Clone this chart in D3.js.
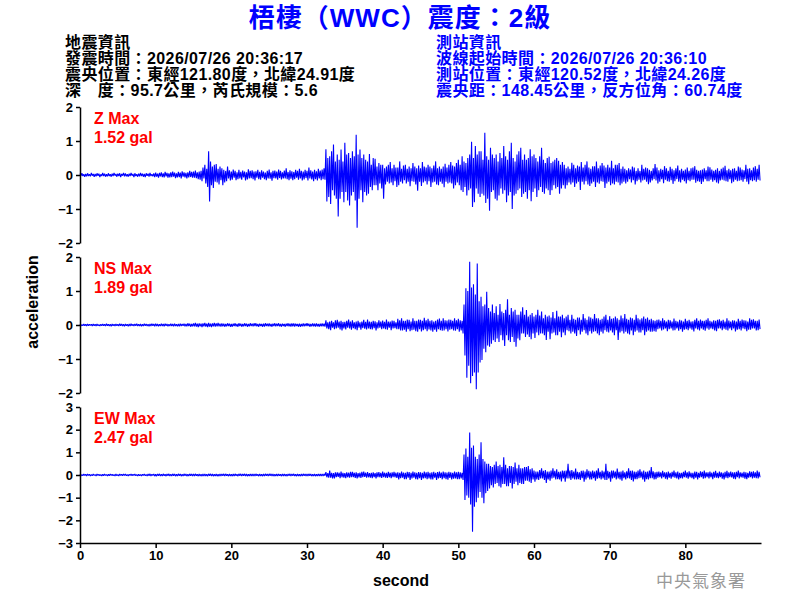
<!DOCTYPE html>
<html>
<head>
<meta charset="utf-8">
<script src="https://cdn.jsdelivr.net/npm/d3@7"></script>
<style>
  body { margin: 0; background: #fff; }
  svg text { font-family: "Liberation Sans", Arial, sans-serif; }
  .cjk { font-family: "Liberation Sans", "Noto Sans CJK TC", sans-serif; }
</style>
</head>
<body>
<svg id="chart"></svg>
<script>
// sample step of the traces (seconds)
const dt = 0.125;

const xTicks = [0, 10, 20, 30, 40, 50, 60, 70, 80];
const zTicks = [-2, -1, 0, 1, 2];
const nsTicks = [-2, -1, 0, 1, 2];
const ewTicks = [-3, -2, -1, 0, 1, 2, 3];

const infoLeft = [
  "地震資訊",
  "發震時間：2026/07/26 20:36:17",
  "震央位置：東經121.80度，北緯24.91度",
  "深　度：95.7公里，芮氏規模：5.6"
];
const infoRight = [
  "測站資訊",
  "波線起始時間：2026/07/26 20:36:10",
  "測站位置：東經120.52度，北緯24.26度",
  "震央距：148.45公里，反方位角：60.74度"
];

// Z component, gal (2 s per row)
const zAcc = [
  0.04,-0.02,0.05,-0.03,0.02,-0.05,0.03,-0.04, 0.05,-0.03,0.02,-0.04,0.06,-0.02,0.03,-0.05,
  0.03,-0.04,0.05,-0.02,0.04,-0.06,0.02,-0.03, 0.06,-0.03,0.04,-0.05,0.02,-0.04,0.05,-0.03,
  0.02,-0.05,0.04,-0.03,0.06,-0.02,0.03,-0.05, 0.04,-0.03,0.05,-0.06,0.03,-0.02,0.06,-0.04,
  0.05,-0.04,0.02,-0.05,0.04,-0.03,0.06,-0.02, 0.03,-0.06,0.05,-0.03,0.02,-0.05,0.04,-0.04,
  0.06,-0.03,0.04,-0.05,0.03,-0.06,0.05,-0.02, 0.04,-0.05,0.06,-0.03,0.02,-0.04,0.05,-0.06,
  0.07,-0.05,0.04,-0.08,0.06,-0.04,0.08,-0.06, 0.05,-0.07,0.09,-0.04,0.06,-0.08,0.05,-0.07,
  0.08,-0.06,0.1,-0.05,0.07,-0.09,0.05,-0.07, 0.09,-0.06,0.07,-0.1,0.11,-0.05,0.08,-0.07,
  0.06,-0.1,0.08,-0.07,0.12,-0.06,0.09,-0.08, 0.1,-0.08,0.13,-0.09,0.08,-0.12,0.1,-0.14,
  0.12,-0.18,0.22,-0.1,0.3,-0.25,0.18,-0.35, 0.7,-0.78,0.4,-0.3,0.25,-0.38,0.3,-0.2,
  0.32,-0.22,0.18,-0.28,0.25,-0.15,0.2,-0.3, 0.15,-0.22,0.12,-0.18,0.25,-0.1,0.14,-0.16,
  0.1,-0.14,0.16,-0.08,0.12,-0.15,0.08,-0.12, 0.15,-0.1,0.09,-0.14,0.13,-0.07,0.1,-0.16,
  0.08,-0.13,0.17,-0.1,0.12,-0.09,0.14,-0.12, 0.1,-0.16,0.11,-0.08,0.15,-0.12,0.09,-0.14,
  0.14,-0.08,0.1,-0.12,0.07,-0.15,0.12,-0.1, 0.16,-0.11,0.08,-0.17,0.12,-0.09,0.13,-0.1,
  0.1,-0.14,0.16,-0.09,0.12,-0.13,0.08,-0.1, 0.13,-0.1,0.2,-0.12,0.09,-0.15,0.14,-0.11,
  0.11,-0.15,0.09,-0.12,0.15,-0.08,0.12,-0.14, 0.18,-0.1,0.12,-0.16,0.1,-0.13,0.15,-0.09,
  0.12,-0.16,0.22,-0.1,0.14,-0.13,0.1,-0.18, 0.15,-0.12,0.11,-0.16,0.18,-0.1,0.13,-0.15,
  0.16,-0.12,0.2,-0.14,0.76,-0.78,0.5,-0.65, 0.55,-0.85,0.7,-0.45,0.9,-0.6,0.4,-0.7,
  0.6,-1.22,0.45,-0.7,0.75,-0.5,0.4,-0.8, 0.95,-0.5,0.6,-0.75,0.65,-0.9,0.5,-0.6,
  0.7,-0.5,0.55,-0.75,1.18,-1.55,0.6,-0.7, 0.75,-0.45,0.5,-0.8,0.6,-0.5,0.45,-0.6,
  0.4,-0.55,0.62,-0.35,0.3,-0.45,0.5,-0.3, 0.48,-0.3,0.25,-0.45,0.35,-0.25,0.3,-0.4,
  0.3,-0.7,0.2,-0.28,0.25,-0.2,0.3,-0.25, 0.38,-0.22,0.2,-0.3,0.3,-0.18,0.22,-0.35,
  0.22,-0.3,0.4,-0.2,0.18,-0.25,0.28,-0.15, 0.3,-0.25,0.18,-0.2,0.25,-0.33,0.2,-0.18,
  0.35,-0.2,0.25,-0.28,0.2,-0.46,0.28,-0.2, 0.2,-0.32,0.38,-0.22,0.25,-0.18,0.22,-0.28,
  0.3,-0.18,0.25,-0.35,0.2,-0.22,0.28,-0.2, 0.4,-0.28,0.2,-0.3,0.25,-0.2,0.18,-0.26,
  0.25,-0.36,0.33,-0.2,0.22,-0.25,0.3,-0.22, 0.38,-0.25,0.28,-0.4,0.25,-0.3,0.35,-0.22,
  0.45,-0.3,0.3,-0.45,0.55,-0.5,0.4,-0.35, 0.35,-0.6,0.5,-0.45,0.6,-0.4,0.98,-0.94,
  0.5,-0.8,0.85,-0.4,0.6,-0.55,0.7,-0.65, 0.7,-0.55,0.45,-0.6,1.24,-0.82,0.55,-0.7,
  0.45,-1.05,0.8,-0.5,0.6,-0.45,0.5,-0.7, 0.6,-0.75,0.4,-0.6,0.65,-0.4,0.5,-0.55,
  0.85,-0.45,0.55,-0.8,0.45,-0.6,0.7,-0.5, 0.95,-1.0,0.5,-0.6,0.4,-0.55,0.6,-0.45,
  0.7,-0.4,0.8,-0.65,0.45,-0.55,0.6,-0.5, 0.45,-0.7,0.5,-0.45,0.76,-0.77,0.55,-0.5,
  0.6,-0.4,0.5,-0.65,0.4,-0.45,0.55,-0.35, 0.8,-0.5,0.45,-0.55,0.35,-0.4,0.5,-0.45,
  0.54,-0.59,0.35,-0.45,0.4,-0.3,0.45,-0.4, 0.5,-0.35,0.42,-0.55,0.3,-0.4,0.38,-0.3,
  0.3,-0.4,0.2,-0.3,0.25,-0.22,0.18,-0.28, 0.36,-0.22,0.3,-0.35,0.2,-0.25,0.28,-0.2,
  0.25,-0.44,0.38,-0.2,0.22,-0.28,0.3,-0.18, 0.4,-0.28,0.22,-0.32,0.18,-0.25,0.26,-0.2,
  0.26,-0.35,0.4,-0.22,0.2,-0.26,0.28,-0.18, 0.35,-0.2,0.28,-0.38,0.22,-0.25,0.3,-0.2,
  0.22,-0.3,0.42,-0.25,0.2,-0.28,0.3,-0.2, 0.3,-0.22,0.35,-0.3,0.18,-0.25,0.25,-0.2,
  0.18,-0.25,0.14,-0.2,0.2,-0.12,0.16,-0.22, 0.25,-0.15,0.22,-0.28,0.12,-0.18,0.2,-0.14,
  0.12,-0.22,0.3,-0.16,0.18,-0.14,0.22,-0.2, 0.2,-0.27,0.15,-0.22,0.12,-0.16,0.2,-0.12,
  0.32,-0.16,0.22,-0.25,0.14,-0.2,0.18,-0.12, 0.15,-0.24,0.26,-0.14,0.2,-0.18,0.12,-0.2,
  0.24,-0.15,0.18,-0.26,0.14,-0.18,0.2,-0.12, 0.28,-0.2,0.14,-0.22,0.18,-0.14,0.12,-0.18,
  0.16,-0.25,0.22,-0.15,0.12,-0.18,0.2,-0.14, 0.22,-0.14,0.26,-0.23,0.15,-0.18,0.12,-0.2,
  0.14,-0.26,0.16,-0.2,0.2,-0.12,0.14,-0.18, 0.25,-0.18,0.23,-0.14,0.16,-0.2,0.12,-0.15,
  0.15,-0.22,0.2,-0.25,0.12,-0.16,0.18,-0.14, 0.22,-0.16,0.27,-0.18,0.14,-0.2,0.18,-0.12,
  0.14,-0.24,0.18,-0.2,0.2,-0.14,0.12,-0.18, 0.25,-0.17,0.22,-0.15,0.16,-0.2,0.14,-0.12,
  0.3,-0.2,0.18,-0.27,0.2,-0.15,0.14,-0.18, 0.22,-0.15,0.26,-0.2,0.18,-0.14,0.3,-0.16
];

// NS component, gal
const nsAcc = [
  0.02,-0.03,0.01,-0.02,0.03,-0.02,0.02,-0.03, 0.03,-0.02,0.02,-0.01,0.02,-0.03,0.03,-0.02,
  0.02,-0.03,0.03,-0.02,0.01,-0.03,0.02,-0.02, 0.03,-0.02,0.02,-0.03,0.04,-0.02,0.02,-0.03,
  0.02,-0.04,0.03,-0.02,0.02,-0.03,0.03,-0.02, 0.02,-0.03,0.04,-0.02,0.03,-0.03,0.02,-0.04,
  0.03,-0.02,0.02,-0.04,0.03,-0.03,0.04,-0.02, 0.02,-0.03,0.03,-0.02,0.04,-0.03,0.02,-0.03,
  0.03,-0.04,0.02,-0.03,0.04,-0.02,0.03,-0.03, 0.02,-0.04,0.03,-0.03,0.04,-0.02,0.03,-0.04,
  0.04,-0.03,0.03,-0.04,0.02,-0.03,0.04,-0.03, 0.03,-0.04,0.04,-0.02,0.03,-0.04,0.02,-0.03,
  0.04,-0.03,0.03,-0.04,0.04,-0.03,0.02,-0.04, 0.03,-0.04,0.04,-0.03,0.03,-0.02,0.04,-0.04,
  0.03,-0.04,0.05,-0.03,0.04,-0.05,0.03,-0.04, 0.05,-0.04,0.06,-0.05,0.04,-0.06,0.05,-0.04,
  0.04,-0.06,0.05,-0.04,0.06,-0.05,0.04,-0.06, 0.06,-0.05,0.04,-0.06,0.05,-0.04,0.06,-0.05,
  0.05,-0.04,0.06,-0.04,0.04,-0.05,0.05,-0.04, 0.04,-0.05,0.03,-0.04,0.05,-0.03,0.04,-0.05,
  0.03,-0.05,0.04,-0.03,0.05,-0.04,0.03,-0.05, 0.05,-0.03,0.04,-0.05,0.03,-0.04,0.05,-0.03,
  0.04,-0.05,0.03,-0.04,0.05,-0.03,0.04,-0.04, 0.05,-0.03,0.05,-0.04,0.03,-0.05,0.04,-0.03,
  0.03,-0.05,0.04,-0.05,0.05,-0.03,0.04,-0.04, 0.05,-0.04,0.03,-0.05,0.04,-0.03,0.05,-0.04,
  0.04,-0.03,0.05,-0.04,0.03,-0.05,0.04,-0.03, 0.03,-0.05,0.04,-0.03,0.05,-0.04,0.04,-0.05,
  0.05,-0.04,0.05,-0.05,0.04,-0.03,0.03,-0.05, 0.04,-0.05,0.03,-0.04,0.05,-0.04,0.04,-0.03,
  0.05,-0.03,0.04,-0.05,0.03,-0.04,0.05,-0.04, 0.04,-0.05,0.05,-0.04,0.03,-0.05,0.04,-0.04,
  0.05,-0.04,0.04,-0.05,0.14,-0.1,0.08,-0.12, 0.1,-0.15,0.12,-0.08,0.08,-0.12,0.14,-0.1,
  0.15,-0.08,0.1,-0.13,0.12,-0.16,0.09,-0.1, 0.09,-0.13,0.12,-0.08,0.16,-0.1,0.1,-0.14,
  0.14,-0.09,0.08,-0.12,0.1,-0.15,0.12,-0.08, 0.08,-0.14,0.1,-0.09,0.15,-0.11,0.09,-0.13,
  0.16,-0.1,0.1,-0.12,0.09,-0.13,0.12,-0.09, 0.11,-0.16,0.08,-0.1,0.14,-0.08,0.1,-0.12,
  0.13,-0.1,0.09,-0.12,0.16,-0.14,0.1,-0.08, 0.1,-0.15,0.13,-0.1,0.12,-0.09,0.08,-0.12,
  0.18,-0.12,0.14,-0.16,0.2,-0.16,0.12,-0.14, 0.12,-0.2,0.16,-0.12,0.15,-0.18,0.1,-0.15,
  0.2,-0.14,0.12,-0.18,0.12,-0.2,0.16,-0.12, 0.15,-0.19,0.12,-0.15,0.21,-0.12,0.14,-0.18,
  0.18,-0.13,0.12,-0.16,0.14,-0.2,0.1,-0.14, 0.12,-0.2,0.16,-0.12,0.19,-0.15,0.12,-0.17,
  0.2,-0.16,0.14,-0.12,0.13,-0.19,0.16,-0.14, 0.15,-0.12,0.12,-0.16,0.2,-0.17,0.14,-0.12,
  0.18,-0.2,0.14,-0.16,0.12,-0.25,0.6,-0.9, 1.08,-1.55,1.0,-1.2,1.86,-1.71,1.1,-1.5,
  1.2,-1.4,0.9,-1.89,1.81,-1.4,0.7,-1.1, 0.83,-1.03,0.55,-0.7,0.6,-0.8,0.98,-0.6,
  0.5,-0.64,0.4,-0.55,0.6,-0.45,0.35,-0.5, 0.55,-0.4,0.3,-0.5,0.62,-0.3,0.4,-0.45,
  0.35,-0.62,0.45,-0.3,0.76,-0.45,0.3,-0.5, 0.5,-0.35,0.4,-0.5,0.45,-0.64,0.3,-0.4,
  0.3,-0.45,0.4,-0.25,0.52,-0.25,0.3,-0.35, 0.44,-0.28,0.25,-0.35,0.3,-0.42,0.35,-0.25,
  0.25,-0.38,0.3,-0.22,0.45,-0.3,0.28,-0.25, 0.4,-0.25,0.2,-0.3,0.3,-0.44,0.25,-0.2,
  0.28,-0.42,0.22,-0.25,0.38,-0.22,0.2,-0.3, 0.42,-0.3,0.25,-0.2,0.25,-0.36,0.3,-0.22,
  0.2,-0.3,0.25,-0.15,0.3,-0.18,0.15,-0.25, 0.3,-0.2,0.18,-0.25,0.15,-0.32,0.22,-0.15,
  0.22,-0.28,0.15,-0.2,0.32,-0.15,0.2,-0.25, 0.15,-0.3,0.25,-0.18,0.22,-0.25,0.18,-0.2,
  0.32,-0.18,0.2,-0.25,0.2,-0.3,0.15,-0.2, 0.18,-0.25,0.25,-0.15,0.3,-0.2,0.15,-0.22,
  0.26,-0.16,0.18,-0.22,0.2,-0.3,0.25,-0.15, 0.2,-0.44,0.15,-0.22,0.28,-0.18,0.2,-0.25,
  0.32,-0.2,0.18,-0.25,0.15,-0.28,0.22,-0.16, 0.2,-0.3,0.15,-0.2,0.3,-0.16,0.2,-0.22,
  0.16,-0.22,0.2,-0.15,0.25,-0.3,0.18,-0.2, 0.22,-0.16,0.15,-0.2,0.18,-0.2,0.14,-0.18,
  0.12,-0.2,0.15,-0.12,0.16,-0.1,0.12,-0.16, 0.2,-0.13,0.14,-0.1,0.1,-0.18,0.15,-0.12,
  0.14,-0.1,0.1,-0.16,0.19,-0.15,0.12,-0.1, 0.1,-0.17,0.15,-0.12,0.13,-0.2,0.1,-0.14,
  0.18,-0.12,0.12,-0.15,0.15,-0.1,0.1,-0.14, 0.11,-0.19,0.15,-0.1,0.2,-0.13,0.12,-0.16,
  0.16,-0.1,0.12,-0.14,0.12,-0.17,0.15,-0.1, 0.2,-0.14,0.12,-0.1,0.1,-0.12,0.14,-0.16,
  0.12,-0.18,0.15,-0.1,0.17,-0.1,0.12,-0.15, 0.15,-0.11,0.1,-0.14,0.2,-0.16,0.13,-0.1,
  0.1,-0.15,0.14,-0.1,0.13,-0.19,0.1,-0.14, 0.18,-0.12,0.12,-0.16,0.16,-0.1,0.14,-0.12,
  0.13,-0.18,0.1,-0.14,0.2,-0.14,0.15,-0.1, 0.17,-0.1,0.12,-0.16,0.12,-0.15,0.16,-0.12
];

// EW component, gal
const ewAcc = [
  0.03,-0.04,0.02,-0.03,0.04,-0.02,0.03,-0.04, 0.04,-0.02,0.03,-0.04,0.02,-0.03,0.04,-0.02,
  0.02,-0.04,0.04,-0.02,0.03,-0.03,0.02,-0.04, 0.03,-0.03,0.04,-0.02,0.02,-0.04,0.03,-0.03,
  0.04,-0.02,0.03,-0.03,0.02,-0.04,0.04,-0.03, 0.02,-0.04,0.04,-0.02,0.03,-0.03,0.04,-0.02,
  0.04,-0.03,0.02,-0.04,0.03,-0.02,0.04,-0.03, 0.03,-0.02,0.04,-0.03,0.02,-0.04,0.03,-0.03,
  0.02,-0.04,0.03,-0.02,0.04,-0.03,0.02,-0.04, 0.04,-0.03,0.05,-0.04,0.03,-0.02,0.04,-0.05,
  0.03,-0.05,0.04,-0.03,0.05,-0.04,0.03,-0.04, 0.05,-0.03,0.03,-0.05,0.04,-0.03,0.05,-0.04,
  0.03,-0.04,0.05,-0.03,0.04,-0.05,0.03,-0.04, 0.05,-0.03,0.04,-0.05,0.03,-0.04,0.05,-0.03,
  0.04,-0.05,0.03,-0.04,0.05,-0.03,0.04,-0.05, 0.05,-0.04,0.05,-0.03,0.03,-0.05,0.04,-0.04,
  0.03,-0.05,0.04,-0.05,0.05,-0.04,0.03,-0.05, 0.05,-0.03,0.05,-0.04,0.04,-0.05,0.03,-0.04,
  0.04,-0.05,0.03,-0.05,0.05,-0.04,0.04,-0.03, 0.05,-0.04,0.05,-0.03,0.03,-0.05,0.04,-0.04,
  0.03,-0.05,0.04,-0.04,0.05,-0.03,0.03,-0.05, 0.05,-0.03,0.05,-0.05,0.04,-0.03,0.05,-0.04,
  0.04,-0.05,0.03,-0.04,0.05,-0.04,0.04,-0.05, 0.05,-0.04,0.05,-0.03,0.03,-0.05,0.04,-0.04,
  0.03,-0.05,0.04,-0.05,0.05,-0.03,0.04,-0.04, 0.05,-0.03,0.05,-0.04,0.04,-0.05,0.03,-0.04,
  0.04,-0.05,0.04,-0.03,0.03,-0.05,0.05,-0.04, 0.05,-0.04,0.03,-0.05,0.04,-0.03,0.05,-0.05,
  0.04,-0.03,0.05,-0.04,0.03,-0.05,0.04,-0.04, 0.03,-0.05,0.04,-0.05,0.05,-0.03,0.04,-0.05,
  0.05,-0.04,0.05,-0.03,0.04,-0.05,0.03,-0.04, 0.04,-0.05,0.03,-0.04,0.05,-0.04,0.04,-0.05,
  0.05,-0.04,0.05,-0.03,0.13,-0.1,0.08,-0.12, 0.2,-0.12,0.1,-0.15,0.08,-0.15,0.12,-0.1,
  0.12,-0.08,0.1,-0.14,0.15,-0.1,0.09,-0.12, 0.08,-0.14,0.12,-0.1,0.1,-0.12,0.14,-0.09,
  0.14,-0.09,0.1,-0.13,0.12,-0.15,0.08,-0.1, 0.1,-0.13,0.14,-0.09,0.15,-0.08,0.1,-0.12,
  0.13,-0.1,0.08,-0.12,0.09,-0.14,0.12,-0.09, 0.08,-0.15,0.12,-0.1,0.13,-0.1,0.09,-0.13,
  0.15,-0.09,0.1,-0.12,0.1,-0.13,0.14,-0.1, 0.1,-0.14,0.12,-0.09,0.14,-0.1,0.1,-0.13,
  0.12,-0.2,0.1,-0.14,0.15,-0.12,0.11,-0.18, 0.1,-0.18,0.14,-0.12,0.13,-0.22,0.1,-0.15,
  0.15,-0.12,0.12,-0.18,0.1,-0.2,0.13,-0.14, 0.12,-0.22,0.1,-0.15,0.15,-0.14,0.12,-0.18,
  0.14,-0.15,0.1,-0.19,0.12,-0.2,0.14,-0.12, 0.1,-0.22,0.13,-0.15,0.15,-0.13,0.11,-0.19,
  0.15,-0.14,0.12,-0.18,0.11,-0.21,0.14,-0.13, 0.12,-0.2,0.1,-0.16,0.15,-0.15,0.12,-0.18,
  0.14,-0.18,0.12,-0.15,0.1,-0.22,0.9,-1.1, 1.17,-0.9,0.8,-1.0,1.88,-1.3,1.2,-2.5,
  1.3,-1.4,0.8,-1.2,0.7,-1.0,0.9,-0.75, 1.44,-1.0,0.7,-1.25,0.6,-0.8,0.5,-0.7,
  0.5,-0.6,0.4,-0.45,0.35,-0.55,0.45,-0.4, 0.6,-0.35,0.4,-0.5,0.45,-0.55,0.35,-0.4,
  0.78,-0.4,0.45,-0.5,0.3,-0.5,0.4,-0.35, 0.4,-0.6,0.35,-0.4,0.55,-0.3,0.3,-0.45,
  0.45,-0.35,0.3,-0.4,0.3,-0.4,0.35,-0.25, 0.35,-0.25,0.4,-0.3,0.25,-0.35,0.3,-0.2,
  0.2,-0.3,0.15,-0.2,0.15,-0.22,0.22,-0.15, 0.3,-0.15,0.18,-0.22,0.22,-0.35,0.15,-0.2,
  0.15,-0.25,0.2,-0.15,0.3,-0.12,0.18,-0.2, 0.25,-0.18,0.14,-0.2,0.15,-0.28,0.2,-0.15,
  0.18,-0.3,0.2,-0.15,0.5,-0.15,0.2,-0.22, 0.22,-0.15,0.15,-0.2,0.28,-0.2,0.14,-0.18,
  0.12,-0.22,0.18,-0.14,0.2,-0.3,0.15,-0.2, 0.25,-0.12,0.18,-0.2,0.15,-0.2,0.2,-0.14,
  0.15,-0.25,0.2,-0.16,0.3,-0.14,0.14,-0.2, 0.2,-0.15,0.15,-0.22,0.5,-0.22,0.18,-0.15,
  0.14,-0.3,0.2,-0.15,0.2,-0.12,0.15,-0.2, 0.28,-0.15,0.14,-0.2,0.15,-0.25,0.2,-0.14,
  0.12,-0.2,0.16,-0.14,0.3,-0.15,0.18,-0.22, 0.2,-0.28,0.15,-0.18,0.14,-0.18,0.2,-0.14,
  0.25,-0.12,0.15,-0.2,0.2,-0.3,0.14,-0.18, 0.15,-0.2,0.2,-0.14,0.35,-0.14,0.16,-0.2,
  0.12,-0.18,0.14,-0.12,0.15,-0.1,0.12,-0.15, 0.18,-0.1,0.12,-0.16,0.12,-0.2,0.15,-0.12,
  0.1,-0.16,0.14,-0.1,0.2,-0.12,0.12,-0.15, 0.15,-0.2,0.1,-0.14,0.1,-0.15,0.14,-0.1,
  0.2,-0.12,0.12,-0.16,0.16,-0.1,0.1,-0.14, 0.1,-0.18,0.15,-0.12,0.14,-0.2,0.1,-0.12,
  0.16,-0.1,0.14,-0.16,0.2,-0.14,0.12,-0.1, 0.12,-0.15,0.15,-0.1,0.1,-0.18,0.14,-0.12,
  0.18,-0.12,0.1,-0.14,0.15,-0.1,0.12,-0.16, 0.1,-0.2,0.14,-0.12,0.18,-0.14,0.12,-0.1,
  0.15,-0.11,0.12,-0.16,0.12,-0.18,0.14,-0.1, 0.2,-0.15,0.12,-0.1,0.1,-0.12,0.14,-0.16,
  0.12,-0.18,0.1,-0.12,0.16,-0.1,0.14,-0.15, 0.16,-0.12,0.12,-0.14,0.2,-0.15,0.14,-0.1
];

const width = 800;
const height = 600;
const svg = d3.select("#chart").attr("width", width).attr("height", height);

const x = d3.scaleLinear().domain([0, 90]).range([80, 761]);

const panels = [
  { name: "Z", data: zAcc, max: "1.52", domain: [-2, 2], ticks: zTicks, top: 107 },
  { name: "NS", data: nsAcc, max: "1.89", domain: [-2, 2], ticks: nsTicks, top: 257 },
  { name: "EW", data: ewAcc, max: "2.47", domain: [-3, 3], ticks: ewTicks, top: 407 }
];
const panelH = 136;

panels.forEach(function (p) {
  const y = d3.scaleLinear().domain(p.domain).range([p.top + panelH, p.top]);

  const line = d3.line()
    .x((d, i) => x(i * dt))
    .y((d) => y(d));

  svg.append("path")
    .datum(p.data)
    .attr("fill", "none")
    .attr("stroke", "#0000ff")
    .attr("stroke-width", 1.1)
    .attr("stroke-linejoin", "bevel")
    .attr("d", line);

  const ax = svg.append("g")
    .attr("transform", "translate(80,0)")
    .call(d3.axisLeft(y).tickValues(p.ticks).tickSize(4).tickSizeOuter(0).tickFormat(d3.format("d")));
  ax.select(".domain").attr("stroke-width", 1.5);
  ax.selectAll(".tick line").attr("stroke-width", 1.5);
  ax.selectAll("text")
    .attr("font-size", 13)
    .attr("font-weight", "bold")
    .attr("font-family", "Liberation Sans, Arial, sans-serif")
    .attr("x", -7);

  svg.append("text")
    .attr("x", 94)
    .attr("y", p.top + 17)
    .attr("fill", "#ff0000")
    .attr("font-size", 16)
    .attr("font-weight", "bold")
    .text(p.name + " Max");
  svg.append("text")
    .attr("x", 94)
    .attr("y", p.top + 36)
    .attr("fill", "#ff0000")
    .attr("font-size", 16)
    .attr("font-weight", "bold")
    .text(p.max + " gal");
});

// bottom axis under the EW panel
const xa = svg.append("g")
  .attr("transform", "translate(0,543)")
  .call(d3.axisBottom(x).tickValues(xTicks).tickSize(5).tickSizeOuter(0));
xa.select(".domain").attr("stroke-width", 1.5);
xa.selectAll(".tick line").attr("stroke-width", 1.5);
xa.selectAll("text")
  .attr("font-size", 13)
  .attr("font-weight", "bold")
  .attr("font-family", "Liberation Sans, Arial, sans-serif")
  .attr("y", 8);

// title
svg.append("text")
  .attr("class", "cjk")
  .attr("x", 400)
  .attr("y", 27)
  .attr("text-anchor", "middle")
  .attr("fill", "#0000ff")
  .attr("font-size", 26)
  .attr("font-weight", "bold")
  .attr("letter-spacing", 1)
  .text("梧棲（WWC）震度：2級");

// info blocks
infoLeft.forEach(function (s, i) {
  svg.append("text")
    .attr("class", "cjk")
    .attr("x", 65)
    .attr("y", 48 + i * 16)
    .attr("font-size", 16)
    .attr("font-weight", "bold")
    .attr("letter-spacing", 0.4)
    .attr("fill", "#000")
    .text(s);
});
infoRight.forEach(function (s, i) {
  svg.append("text")
    .attr("class", "cjk")
    .attr("x", 436)
    .attr("y", 48 + i * 16)
    .attr("font-size", 16)
    .attr("font-weight", "bold")
    .attr("letter-spacing", 0.4)
    .attr("fill", "#0000ff")
    .text(s);
});

// axis titles
svg.append("text")
  .attr("transform", "translate(38,302) rotate(-90)")
  .attr("text-anchor", "middle")
  .attr("font-size", 16)
  .attr("font-weight", "bold")
  .text("acceleration");

svg.append("text")
  .attr("x", 401)
  .attr("y", 586)
  .attr("text-anchor", "middle")
  .attr("font-size", 16)
  .attr("font-weight", "bold")
  .text("second");

svg.append("text")
  .attr("class", "cjk")
  .attr("x", 701)
  .attr("y", 587)
  .attr("text-anchor", "middle")
  .attr("fill", "#999")
  .attr("font-size", 17)
  .attr("letter-spacing", 1)
  .text("中央氣象署");
</script>
</body>
</html>
